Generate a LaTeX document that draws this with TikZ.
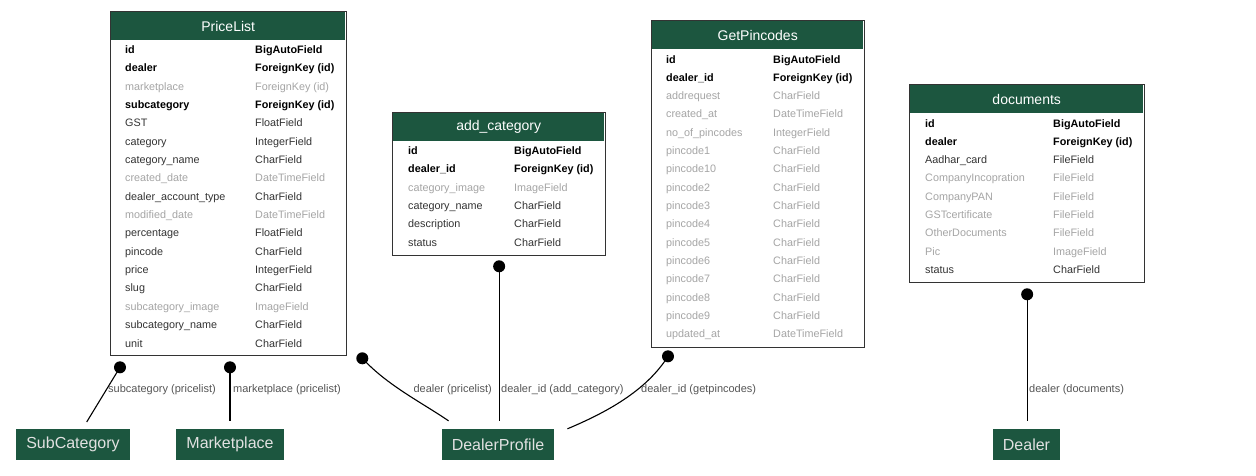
\documentclass[tikz,border=0pt]{standalone}
\usepackage{fontspec}
\setmainfont{Liberation Sans}
\usetikzlibrary{calc}
\definecolor{modelgreen}{RGB}{28,86,63}
\definecolor{framegray}{RGB}{51,51,51}
\definecolor{plaintext}{RGB}{51,51,51}
\definecolor{nulltext}{RGB}{165,165,165}
\definecolor{edgetext}{RGB}{85,85,85}
\definecolor{linktext}{RGB}{225,225,225}
\tikzset{
  model frame/.style={draw=framegray,line width=1.3pt,fill=white,anchor=north west,inner sep=0pt},
  model head/.style={fill=modelgreen,text=white,anchor=north west,inner sep=0pt,minimum height=28pt,font=\fontsize{14}{16}\selectfont},
  field/.style={anchor=base west,inner sep=0pt,font=\fontsize{10.8}{13}\selectfont},
  kind/.is choice,
  kind/key/.style={text=black,font=\fontsize{10.8}{13}\selectfont\bfseries},
  kind/plain/.style={text=plaintext},
  kind/null/.style={text=nulltext},
  link model/.style={fill=modelgreen,text=linktext,minimum height=31pt,inner xsep=10pt,font=\fontsize{16}{18}\selectfont},
  fk edge/.style={line width=1.1pt,shorten >=8pt},
  fk curve/.style={line width=1.1pt},
  fk dot/.style={fill=black},
  fk label/.style={inner sep=1pt,text=edgetext,font=\fontsize{11}{13}\selectfont},
}
\begin{document}
\begin{tikzpicture}[x=1pt,y=-1pt]
  \useasboundingbox (0,0) rectangle (1256,475);
  % PriceList
  \node[model frame,minimum width=236pt,minimum height=344pt] (pricelist) at (110,11) {};
  \node[model head,minimum width=234pt] (pricelist head) at ($(pricelist.north west)+(1,1)$) {PriceList};
  \foreach \f/\t/\s [count=\i from 0] in {id/BigAutoField/key, dealer/ForeignKey (id)/key,
      marketplace/ForeignKey (id)/null, subcategory/ForeignKey (id)/key, GST/FloatField/plain,
      category/IntegerField/plain, category\_name/CharField/plain, created\_date/DateTimeField/null,
      dealer\_account\_type/CharField/plain, modified\_date/DateTimeField/null, percentage/FloatField/plain,
      pincode/CharField/plain, price/IntegerField/plain, slug/CharField/plain,
      subcategory\_image/ImageField/null, subcategory\_name/CharField/plain, unit/CharField/plain}{
    \node[field,kind=\s] (pricelist f\i) at ($(pricelist.north west)+(15,42.3+18.36*\i)$) {\f};
    \node[field,kind=\s] (pricelist t\i) at ($(pricelist.north west)+(145,42.3+18.36*\i)$) {\t};
  }
  % add_category
  \node[model frame,minimum width=213pt,minimum height=143pt] (addcategory) at (392,112) {};
  \node[model head,minimum width=211pt] (addcategory head) at ($(addcategory.north west)+(1,1)$) {add\_category};
  \foreach \f/\t/\s [count=\i from 0] in {id/BigAutoField/key, dealer\_id/ForeignKey (id)/key,
      category\_image/ImageField/null, category\_name/CharField/plain,
      description/CharField/plain, status/CharField/plain}{
    \node[field,kind=\s] (addcategory f\i) at ($(addcategory.north west)+(16,42.3+18.36*\i)$) {\f};
    \node[field,kind=\s] (addcategory t\i) at ($(addcategory.north west)+(122,42.3+18.36*\i)$) {\t};
  }
  % GetPincodes
  \node[model frame,minimum width=213pt,minimum height=327pt] (getpincodes) at (651,20) {};
  \node[model head,minimum width=211pt] (getpincodes head) at ($(getpincodes.north west)+(1,1)$) {GetPincodes};
  \foreach \f/\t/\s [count=\i from 0] in {id/BigAutoField/key, dealer\_id/ForeignKey (id)/key,
      addrequest/CharField/null, created\_at/DateTimeField/null, no\_of\_pincodes/IntegerField/null,
      pincode1/CharField/null, pincode10/CharField/null, pincode2/CharField/null,
      pincode3/CharField/null, pincode4/CharField/null, pincode5/CharField/null,
      pincode6/CharField/null, pincode7/CharField/null, pincode8/CharField/null,
      pincode9/CharField/null, updated\_at/DateTimeField/null}{
    \node[field,kind=\s] (getpincodes f\i) at ($(getpincodes.north west)+(15,43+18.33*\i)$) {\f};
    \node[field,kind=\s] (getpincodes t\i) at ($(getpincodes.north west)+(122,43+18.33*\i)$) {\t};
  }
  % documents
  \node[model frame,minimum width=235pt,minimum height=198pt] (documents) at (909,84) {};
  \node[model head,minimum width=233pt] (documents head) at ($(documents.north west)+(1,1)$) {documents};
  \foreach \f/\t/\s [count=\i from 0] in {id/BigAutoField/key, dealer/ForeignKey (id)/key,
      Aadhar\_card/FileField/plain, CompanyIncopration/FileField/null, CompanyPAN/FileField/null,
      GSTcertificate/FileField/null, OtherDocuments/FileField/null, Pic/ImageField/null,
      status/CharField/plain}{
    \node[field,kind=\s] (documents f\i) at ($(documents.north west)+(16,43+18.3*\i)$) {\f};
    \node[field,kind=\s] (documents t\i) at ($(documents.north west)+(144,43+18.3*\i)$) {\t};
  }
  % related models
  \node[link model] (subcategory) at (73,444.5) {SubCategory};
  \node[link model] (marketplace) at (230,444.5) {Marketplace};
  \node[link model] (dealerprofile) at (498,444.5) {DealerProfile};
  \node[link model] (dealer) at (1026.5,444.5) {Dealer};
  % foreign keys
  \coordinate (pl sub) at ($(pricelist.south west)+(10,11)$);
  \coordinate (pl mkt) at ($(pricelist.south west)+(120,11)$);
  \coordinate (pl dealer) at ($(pricelist.south east)+(15,2)$);
  \coordinate (ac dealer) at ($(addcategory.south)+(0,10)$);
  \coordinate (gp dealer) at ($(getpincodes.south west)+(17,8)$);
  \coordinate (doc dealer) at ($(documents.south)+(0,11)$);
  \foreach \c in {pl sub,pl mkt,pl dealer,ac dealer,gp dealer,doc dealer}
    \fill[fk dot] (\c) circle[radius=6pt];
  \draw[fk edge] (pl sub) -- (subcategory);
  \draw[fk edge] (pl mkt) -- (pl mkt |- marketplace.north);
  \draw[fk curve] (pl dealer) .. controls +(25,27) and +(-28,-19) .. ([shift={(7,-8)}]dealerprofile.north west);
  \draw[fk edge] (ac dealer) -- (ac dealer |- dealerprofile.north);
  \draw[fk curve] (gp dealer) .. controls +(-22,35) and +(38,-16) .. ([shift={(13,0)}]dealerprofile.north east);
  \draw[fk edge] (doc dealer) -- (doc dealer |- dealer.north);
  \node[fk label,anchor=west] (sub label) at (107,390) {subcategory (pricelist)};
  \node[fk label,anchor=west] (mkt label) at (232,390) {marketplace (pricelist)};
  \node[fk label,anchor=east] (pl dealer label) at (493,390) {dealer (pricelist)};
  \node[fk label,anchor=west] (ac dealer label) at (500,390) {dealer\_id (add\_category)};
  \node[fk label,anchor=west] (gp dealer label) at (640,390) {dealer\_id (getpincodes)};
  \node[fk label,anchor=west] (doc dealer label) at (1028,390) {dealer (documents)};
\end{tikzpicture}
\end{document}
